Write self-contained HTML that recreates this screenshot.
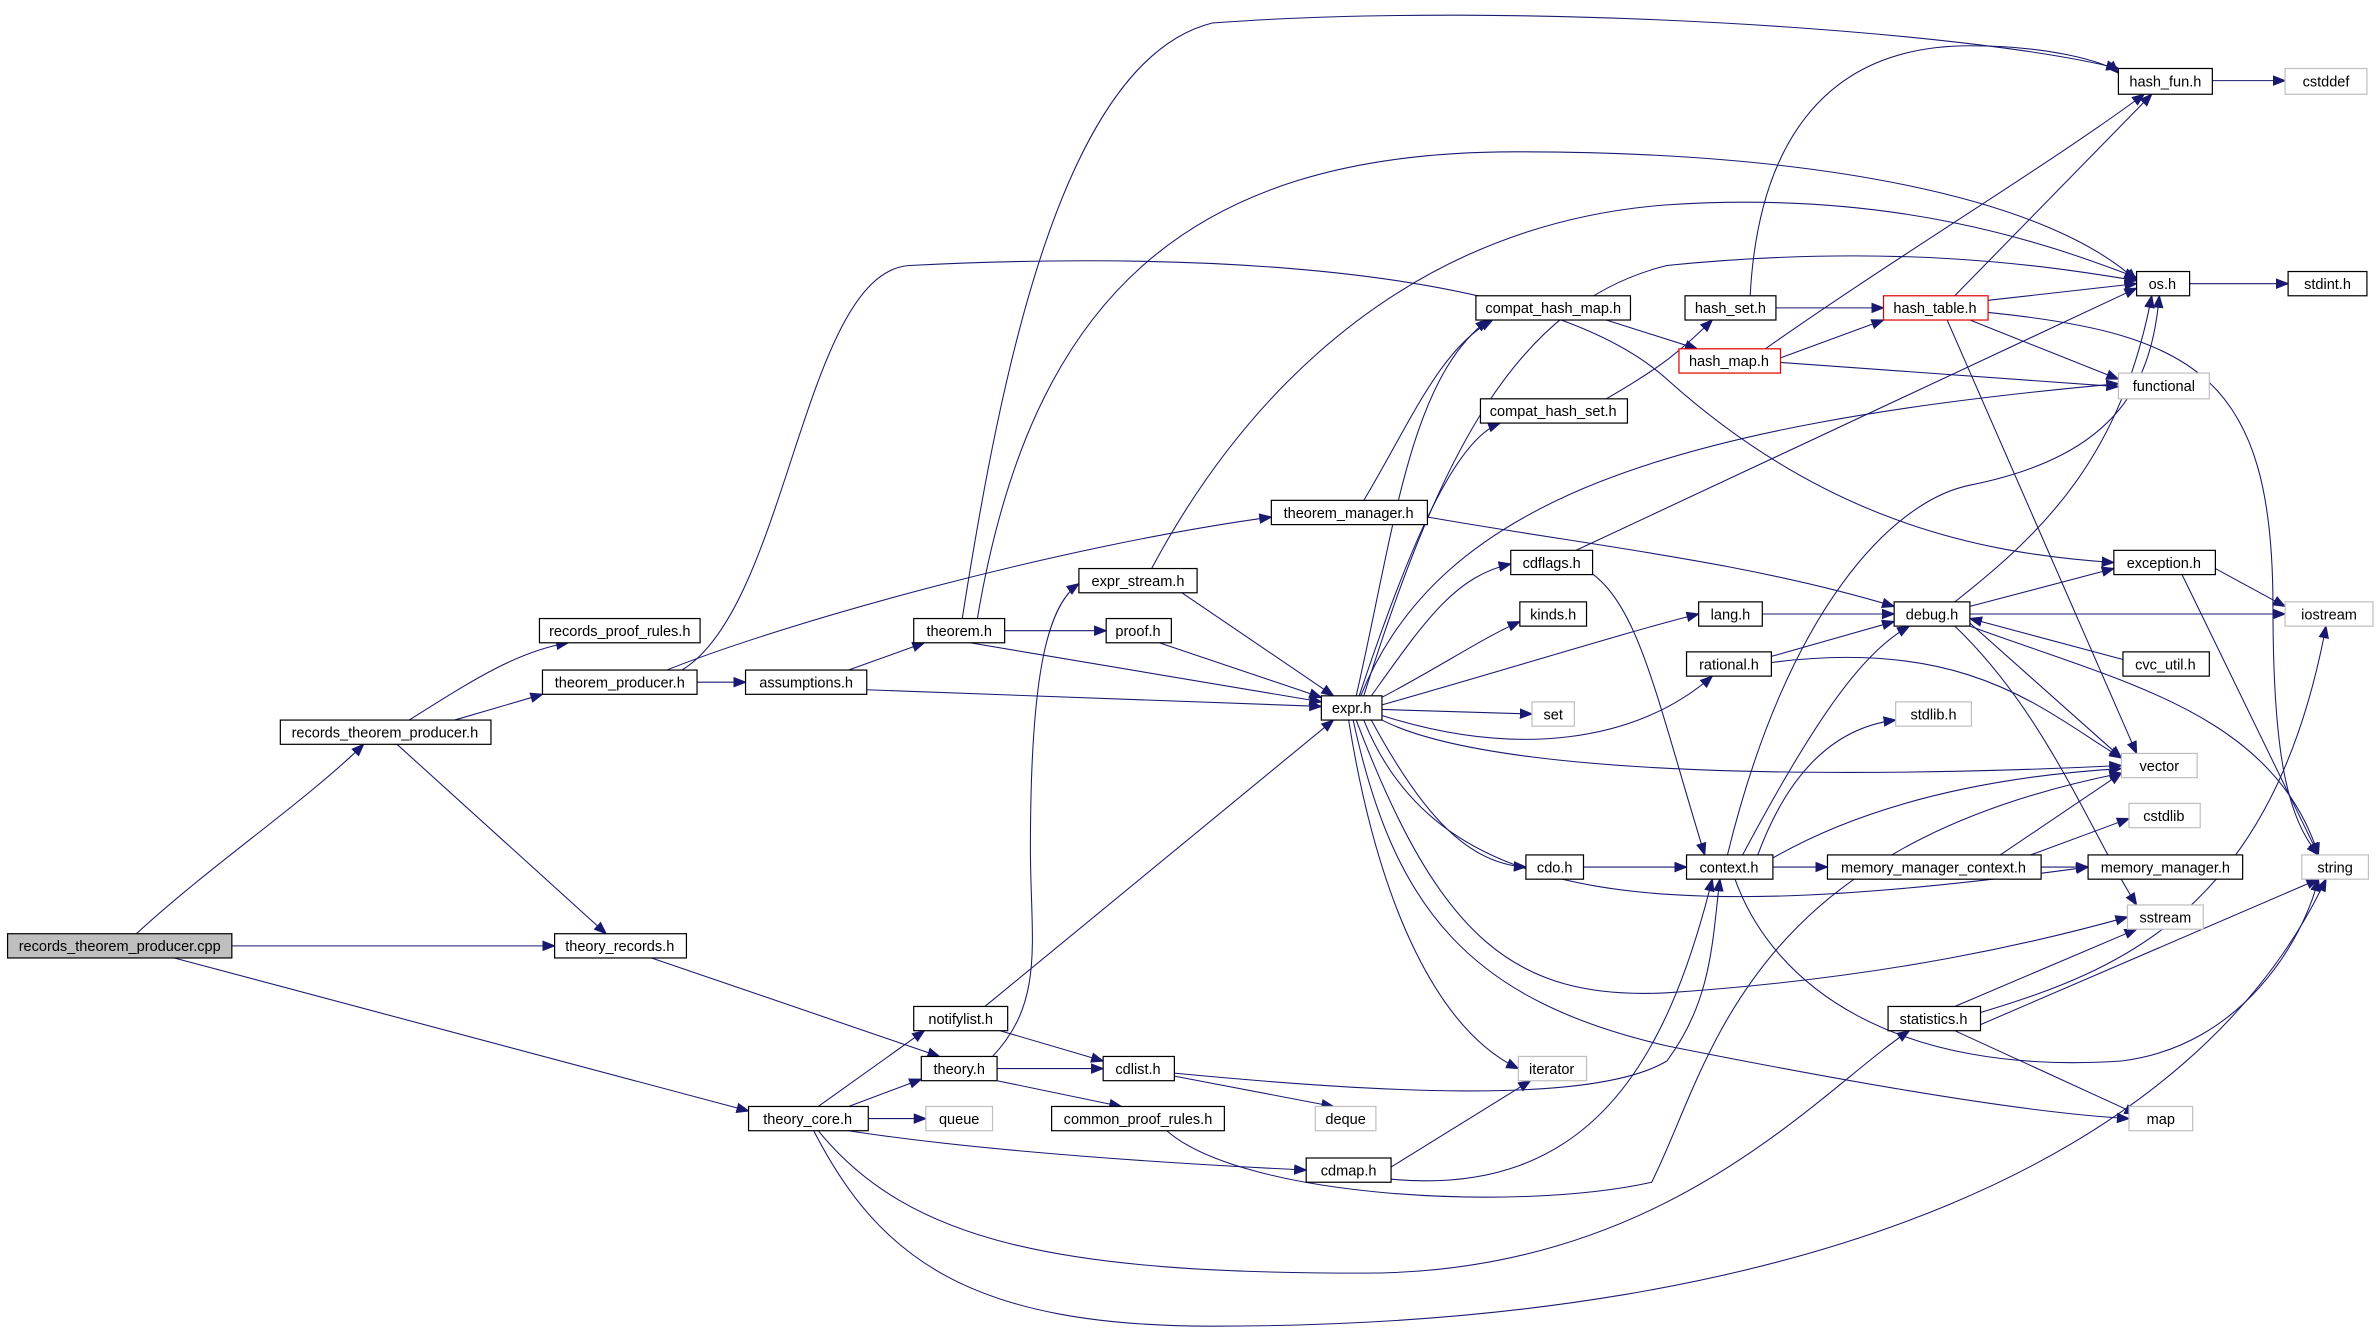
<!DOCTYPE html>
<html><head><meta charset="utf-8"><style>
html,body{margin:0;padding:0;background:#fff;}
svg{display:block;}
text{font-family:"Liberation Sans",sans-serif;font-size:9.6px;fill:#000;text-anchor:middle;}
.n{fill:#fff;stroke:#000;stroke-width:0.8;}
.g{fill:#fff;stroke:#bfbfbf;stroke-width:0.8;}
.r{fill:#fff;stroke:#e00000;stroke-width:0.8;}
.e{fill:none;stroke:#191970;stroke-width:0.7;marker-end:url(#a);}
</style></head><body>
<svg width="2376" height="1328" viewBox="0 0 1568 876" xmlns="http://www.w3.org/2000/svg">
<defs><marker id="a" markerUnits="userSpaceOnUse" markerWidth="9" markerHeight="7" refX="8" refY="3.5" orient="auto"><path d="M0,0 L9,3.5 L0,7 z" fill="#191970"/></marker></defs>
<g>
<path class="e" d="M90,616 C140,570 200,530 240,491"/>
<path class="e" d="M153,624 L366,624"/>
<path class="e" d="M115,632 L494,733"/>
<path class="e" d="M270,475 C310,450 340,430 375,424"/>
<path class="e" d="M300,475 L358,458"/>
<path class="e" d="M262,491 L400,616"/>
<path class="e" d="M460,450 L492,450"/>
<path class="e" d="M440,442 C520,410 700,360 839,341"/>
<path class="e" d="M450,442 C520,400 530,180 600,175 C700,170 1000,160 1100,250 C1200,340 1300,365 1395,371"/>
<path class="e" d="M430,632 L620,697"/>
<path class="e" d="M560,442 L610,424"/>
<path class="e" d="M572,455 L872,466"/>
<path class="e" d="M663,416 L730,416"/>
<path class="e" d="M640,424 L872,463"/>
<path class="e" d="M635,408 C660,250 700,40 800,15 C1000,0 1300,20 1398,45"/>
<path class="e" d="M645,408 C680,200 780,100 1000,100 C1200,100 1350,130 1410,185"/>
<path class="e" d="M655,697 C690,660 680,620 680,560 C680,450 690,400 712,385"/>
<path class="e" d="M780,391 L880,459"/>
<path class="e" d="M760,375 C800,300 900,150 1100,135 C1250,125 1350,160 1410,183"/>
<path class="e" d="M765,424 L872,460"/>
<path class="e" d="M900,330 C930,280 950,230 985,211"/>
<path class="e" d="M942,341 C1050,360 1150,370 1250,400"/>
<path class="e" d="M895,459 C920,350 930,250 982,211"/>
<path class="e" d="M897,459 C930,360 960,290 990,279"/>
<path class="e" d="M905,459 C940,410 960,380 997,372"/>
<path class="e" d="M912,460 C950,440 980,420 1003,410"/>
<path class="e" d="M912,465 C1000,440 1080,415 1121,405"/>
<path class="e" d="M912,468 L1011,471"/>
<path class="e" d="M912,472 C1000,500 1080,490 1130,446"/>
<path class="e" d="M912,475 C1000,520 1300,510 1400,505"/>
<path class="e" d="M905,475 C940,540 970,570 1007,572"/>
<path class="e" d="M900,475 C950,600 1100,610 1378,572"/>
<path class="e" d="M895,475 C950,620 1000,660 1100,655 C1250,645 1350,620 1404,605"/>
<path class="e" d="M893,475 C920,600 970,660 1100,690 C1250,720 1350,735 1405,738"/>
<path class="e" d="M890,475 C910,600 950,680 1002,705"/>
<path class="e" d="M898,459 C950,330 1100,280 1398,253"/>
<path class="e" d="M900,459 C950,300 1000,200 1100,175 C1250,160 1350,175 1410,185"/>
<path class="e" d="M1172,203 L1243,203"/>
<path class="e" d="M1155,195 C1160,100 1200,30 1300,30 C1350,30 1390,40 1398,48"/>
<path class="e" d="M1175,236 L1243,211"/>
<path class="e" d="M1165,230 C1250,170 1350,110 1415,62"/>
<path class="e" d="M1175,239 L1398,255"/>
<path class="e" d="M1060,211 L1120,230"/>
<path class="e" d="M1060,263 C1100,240 1110,230 1130,211"/>
<path class="e" d="M1312,198 L1410,187"/>
<path class="e" d="M1290,195 L1420,62"/>
<path class="e" d="M1300,211 L1398,250"/>
<path class="e" d="M1312,206 C1450,220 1500,250 1500,400 C1500,500 1510,540 1530,564"/>
<path class="e" d="M1285,211 L1410,497"/>
<path class="e" d="M1445,187 L1510,187"/>
<path class="e" d="M1460,53 L1508,53"/>
<path class="e" d="M1040,363 L1410,190"/>
<path class="e" d="M1040,372 C1080,390 1090,450 1125,564"/>
<path class="e" d="M1163,405 L1250,405"/>
<path class="e" d="M1169,433 L1250,410"/>
<path class="e" d="M1169,437 C1300,420 1350,470 1400,500"/>
<path class="e" d="M1300,400 L1395,375"/>
<path class="e" d="M1300,405 L1508,405"/>
<path class="e" d="M1290,397 C1350,350 1400,300 1420,195"/>
<path class="e" d="M1300,411 L1400,500"/>
<path class="e" d="M1300,413 C1400,450 1500,470 1530,564"/>
<path class="e" d="M1290,413 C1350,470 1380,550 1410,597"/>
<path class="e" d="M1401,435 L1300,408"/>
<path class="e" d="M1462,375 L1508,400"/>
<path class="e" d="M1440,379 L1530,564"/>
<path class="e" d="M1150,564 C1200,470 1230,430 1260,413"/>
<path class="e" d="M1140,564 C1180,400 1250,330 1300,320 C1400,300 1420,250 1425,195"/>
<path class="e" d="M1160,564 C1180,510 1210,480 1251,475"/>
<path class="e" d="M1170,566 C1250,520 1350,510 1400,507"/>
<path class="e" d="M1170,572 L1206,572"/>
<path class="e" d="M1145,580 C1170,650 1250,710 1400,700 C1480,690 1520,620 1530,580"/>
<path class="e" d="M1045,572 L1113,572"/>
<path class="e" d="M1347,572 L1378,572"/>
<path class="e" d="M1320,564 L1400,510"/>
<path class="e" d="M1340,564 L1405,540"/>
<path class="e" d="M1307,668 C1400,640 1500,600 1535,413"/>
<path class="e" d="M1307,676 L1530,580"/>
<path class="e" d="M1290,664 L1410,613"/>
<path class="e" d="M1290,680 L1410,735"/>
<path class="e" d="M650,664 L880,475"/>
<path class="e" d="M660,680 L728,700"/>
<path class="e" d="M658,705 L728,705"/>
<path class="e" d="M658,713 L740,730"/>
<path class="e" d="M775,710 L880,730"/>
<path class="e" d="M775,708 C900,720 1050,730 1100,700 C1130,660 1130,620 1135,580"/>
<path class="e" d="M770,746 C820,790 1000,800 1090,780 C1130,700 1150,560 1400,510"/>
<path class="e" d="M918,770 L1010,713"/>
<path class="e" d="M918,778 C1050,790 1100,700 1130,580"/>
<path class="e" d="M540,730 L610,680"/>
<path class="e" d="M560,730 L608,712"/>
<path class="e" d="M573,738 L611,738"/>
<path class="e" d="M560,746 C650,760 780,768 862,772"/>
<path class="e" d="M540,746 C600,820 700,840 900,840 C1100,840 1200,720 1260,680"/>
<path class="e" d="M537,746 C580,830 640,875 800,875 C1200,875 1450,760 1535,580"/>
</g>
<g>
<rect x="5" y="616" width="148" height="16" fill="#bfbfbf" stroke="#000" stroke-width="0.8"/><text x="79" y="627.5">records_theorem_producer.cpp</text>
<rect class="n" x="185" y="475" width="139" height="16"/><text x="254" y="486.5">records_theorem_producer.h</text>
<rect class="n" x="356" y="408" width="106" height="16"/><text x="409" y="419.5">records_proof_rules.h</text>
<rect class="n" x="358" y="442" width="102" height="16"/><text x="409" y="453.5">theorem_producer.h</text>
<rect class="n" x="366" y="616" width="87" height="16"/><text x="409" y="627.5">theory_records.h</text>
<rect class="n" x="492" y="442" width="80" height="16"/><text x="532" y="453.5">assumptions.h</text>
<rect class="n" x="603" y="408" width="60" height="16"/><text x="633" y="419.5">theorem.h</text>
<rect class="n" x="730" y="408" width="43" height="16"/><text x="751" y="419.5">proof.h</text>
<rect class="n" x="712" y="375" width="78" height="16"/><text x="751" y="386.5">expr_stream.h</text>
<rect class="n" x="839" y="330" width="103" height="16"/><text x="890" y="341.5">theorem_manager.h</text>
<rect class="n" x="872" y="459" width="40" height="16"/><text x="892" y="470.5">expr.h</text>
<rect class="n" x="974" y="195" width="102" height="16"/><text x="1025" y="206.5">compat_hash_map.h</text>
<rect class="n" x="977" y="263" width="97" height="16"/><text x="1025" y="274.5">compat_hash_set.h</text>
<rect class="n" x="1112" y="195" width="60" height="16"/><text x="1142" y="206.5">hash_set.h</text>
<rect class="r" x="1108" y="230" width="67" height="16"/><text x="1141" y="241.5">hash_map.h</text>
<rect class="r" x="1243" y="195" width="69" height="16"/><text x="1277" y="206.5">hash_table.h</text>
<rect class="n" x="1398" y="45" width="62" height="17"/><text x="1429" y="57">hash_fun.h</text>
<rect class="g" x="1508" y="45" width="54" height="17"/><text x="1535" y="57">cstddef</text>
<rect class="n" x="1410" y="179" width="35" height="16"/><text x="1427" y="190.5">os.h</text>
<rect class="n" x="1510" y="179" width="52" height="16"/><text x="1536" y="190.5">stdint.h</text>
<rect class="g" x="1398" y="246" width="60" height="17"/><text x="1428" y="258">functional</text>
<rect class="n" x="997" y="363" width="54" height="16"/><text x="1024" y="374.5">cdflags.h</text>
<rect class="n" x="1003" y="397" width="44" height="16"/><text x="1025" y="408.5">kinds.h</text>
<rect class="n" x="1121" y="397" width="42" height="16"/><text x="1142" y="408.5">lang.h</text>
<rect class="n" x="1113" y="430" width="56" height="16"/><text x="1141" y="441.5">rational.h</text>
<rect class="n" x="1250" y="397" width="50" height="16"/><text x="1275" y="408.5">debug.h</text>
<rect class="n" x="1395" y="363" width="67" height="16"/><text x="1428" y="374.5">exception.h</text>
<rect class="g" x="1508" y="397" width="58" height="16"/><text x="1537" y="408.5">iostream</text>
<rect class="n" x="1401" y="430" width="57" height="16"/><text x="1429" y="441.5">cvc_util.h</text>
<rect class="g" x="1011" y="463" width="28" height="16"/><text x="1025" y="474.5">set</text>
<rect class="g" x="1251" y="463" width="50" height="16"/><text x="1276" y="474.5">stdlib.h</text>
<rect class="g" x="1400" y="497" width="50" height="16"/><text x="1425" y="508.5">vector</text>
<rect class="g" x="1405" y="530" width="47" height="16"/><text x="1428" y="541.5">cstdlib</text>
<rect class="n" x="1007" y="564" width="38" height="16"/><text x="1026" y="575.5">cdo.h</text>
<rect class="n" x="1113" y="564" width="57" height="16"/><text x="1141" y="575.5">context.h</text>
<rect class="n" x="1206" y="564" width="141" height="16"/><text x="1276" y="575.5">memory_manager_context.h</text>
<rect class="n" x="1378" y="564" width="102" height="16"/><text x="1429" y="575.5">memory_manager.h</text>
<rect class="g" x="1519" y="564" width="44" height="16"/><text x="1541" y="575.5">string</text>
<rect class="g" x="1404" y="597" width="50" height="16"/><text x="1429" y="608.5">sstream</text>
<rect class="n" x="1246" y="664" width="61" height="16"/><text x="1276" y="675.5">statistics.h</text>
<rect class="g" x="1002" y="697" width="45" height="16"/><text x="1024" y="708.5">iterator</text>
<rect class="g" x="1405" y="730" width="42" height="16"/><text x="1426" y="741.5">map</text>
<rect class="n" x="603" y="664" width="62" height="16"/><text x="634" y="675.5">notifylist.h</text>
<rect class="n" x="608" y="697" width="50" height="16"/><text x="633" y="708.5">theory.h</text>
<rect class="n" x="728" y="697" width="47" height="16"/><text x="751" y="708.5">cdlist.h</text>
<rect class="n" x="694" y="730" width="114" height="16"/><text x="751" y="741.5">common_proof_rules.h</text>
<rect class="g" x="868" y="730" width="40" height="16"/><text x="888" y="741.5">deque</text>
<rect class="g" x="611" y="730" width="44" height="16"/><text x="633" y="741.5">queue</text>
<rect class="n" x="494" y="730" width="79" height="16"/><text x="533" y="741.5">theory_core.h</text>
<rect class="n" x="862" y="764" width="56" height="16"/><text x="890" y="775.5">cdmap.h</text>
</g>
</svg>
</body></html>
